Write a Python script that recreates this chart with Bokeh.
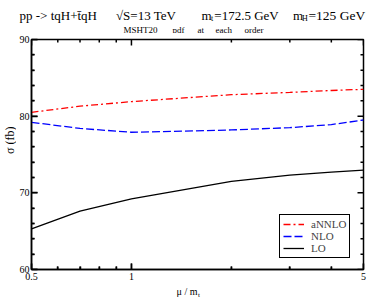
import math
from bokeh.plotting import figure
from bokeh.models import (FixedTicker, Legend, LegendItem,
                          CustomJSTickFormatter, ColumnDataSource, Range1d)
from bokeh.layouts import column, row
from bokeh.core.properties import value
from bokeh.embed import file_html
from bokeh.resources import INLINE

# ---- data ----
mu = [0.5, 0.7, 1.0, 2.0, 3.0, 4.0, 5.0]
annlo = [80.5, 81.3, 81.9, 82.8, 83.1, 83.35, 83.5]
nlo = [79.2, 78.4, 77.9, 78.2, 78.5, 78.9, 79.5]
lo = [65.3, 67.6, 69.2, 71.5, 72.3, 72.7, 72.95]

x_major = [0.5, 1, 5]
x_minor = [0.6, 0.7, 0.8, 0.9, 2, 3, 4]
y_major = [60, 70, 80, 90]
y_minor = [62, 64, 66, 68, 72, 74, 76, 78, 82, 84, 86, 88]

SERIF = "Liberation Serif"
W = 371
TOP_H = 33
LEFT_W = 16
FRAME_W, FRAME_H = 332, 230
MB_TOP, MB_BOT, MB_LEFT, MB_RIGHT = 39 - TOP_H, 15, 29 - LEFT_W, 10
MAIN_H = MB_TOP + FRAME_H + MB_BOT
BOT_Y0 = TOP_H + MAIN_H
BOT_H = 299 - BOT_Y0
X0, X1, Y0, Y1 = 0.5, 5.0, 60.0, 90.0


def strip(width, height, x0, y0):
    f = figure(width=width, height=height, x_range=Range1d(x0, x0 + width),
               y_range=Range1d(y0 + height, y0),
               min_border=0, x_axis_location=None, y_axis_location=None,
               output_backend="svg", toolbar_location=None)
    f.xgrid.visible = False
    f.ygrid.visible = False
    f.outline_line_color = None
    f.background_fill_color = None
    f.border_fill_color = None
    return f


def txt(f, x, y, s, size, align="left", baseline="alphabetic", angle=0.0):
    f.text(x=[x], y=[y], text=[s], text_font=value(SERIF), text_font_size=value(size),
           text_color="black", text_align=align, text_baseline=baseline, angle=angle)


# ---------- title strip ----------
top_fig = strip(W, TOP_H, 0, 0)
txt(top_fig, 19, 15, "pp -> tqH+t\u0304qH", "13px")
txt(top_fig, 145.5, 15, "\u221aS=13 TeV", "13px", align="center")
txt(top_fig, 211, 15, "m", "13px", align="right")
txt(top_fig, 210.5, 18, "t", "8px")
txt(top_fig, 246, 15, "=172.5 GeV", "13px", align="center")
txt(top_fig, 302.5, 15, "m", "13px", align="right")
txt(top_fig, 301.5, 18, "H", "8px")
txt(top_fig, 308, 15, "=125 GeV", "13.5px")
for wx, word in zip([123, 172, 197, 215, 244], ["MSHT20", "pdf", "at", "each", "order"]):
    txt(top_fig, wx, 29, word, "9px")

# ---------- left strip (y title) ----------
left_fig = strip(LEFT_W, MAIN_H, 0, TOP_H)
txt(left_fig, 9, 143, "\u03c3 (fb)", "12px", align="center", baseline="middle", angle=math.pi / 2)

# ---------- main plot ----------
p = figure(x_axis_type="log", x_range=(X0, X1), y_range=(Y0, Y1),
           frame_width=FRAME_W, frame_height=FRAME_H,
           min_border_left=MB_LEFT, min_border_right=MB_RIGHT,
           min_border_top=MB_TOP, min_border_bottom=MB_BOT,
           output_backend="svg", toolbar_location=None)
p.xgrid.visible = False
p.ygrid.visible = False
p.outline_line_color = "black"
p.outline_line_width = 1.5
p.background_fill_color = None
p.border_fill_color = None

fmt = CustomJSTickFormatter(code="return String(tick);")
xtick = FixedTicker(ticks=x_major, minor_ticks=x_minor)
ytick = FixedTicker(ticks=y_major, minor_ticks=y_minor)

for ax, tk, standoff in ((p.xaxis[0], xtick, 3), (p.yaxis[0], ytick, 2)):
    ax.ticker = tk
    ax.formatter = fmt
    ax.axis_line_color = "black"
    ax.axis_line_width = 1.5
    ax.major_tick_in = 6
    ax.major_tick_out = 0
    ax.minor_tick_in = 3
    ax.minor_tick_out = 0
    ax.major_tick_line_color = "black"
    ax.minor_tick_line_color = "black"
    ax.major_tick_line_width = 1.5
    ax.minor_tick_line_width = 1.5
    ax.major_label_text_font = SERIF
    ax.major_label_text_font_size = "10px"
    ax.major_label_text_color = "black"
    ax.major_label_standoff = standoff


# inward tick marks on all four sides (lengths in px converted through the scales)
def ytick_len(px):
    return px * (Y1 - Y0) / FRAME_H


def xtick_fac(px):
    return 10 ** (px * math.log10(X1 / X0) / FRAME_W)


tx, ty0, ty1 = [], [], []
for vals, L in ((x_major, 6), (x_minor, 3)):
    for v in vals:
        tx += [v, v]
        ty0 += [Y0, Y1]
        ty1 += [Y0 + ytick_len(L), Y1 - ytick_len(L)]
p.segment(x0=tx, y0=ty0, x1=tx, y1=ty1, line_color="black", line_width=1.5)

sx0, sx1, sy = [], [], []
for vals, L in ((y_major, 6), (y_minor, 3)):
    for v in vals:
        sy += [v, v]
        sx0 += [X0, X1]
        sx1 += [X0 * xtick_fac(L), X1 / xtick_fac(L)]
p.segment(x0=sx0, y0=sy, x1=sx1, y1=sy, line_color="black", line_width=1.5)

src = ColumnDataSource(dict(mu=mu, annlo=annlo, nlo=nlo, lo=lo))
r1 = p.line("mu", "annlo", source=src, line_color="#ff0000", line_width=1.3, line_dash="7 3 2 3")
r2 = p.line("mu", "nlo", source=src, line_color="#0000ff", line_width=1.3, line_dash="8 3")
r3 = p.line("mu", "lo", source=src, line_color="black", line_width=1.3)

legend = Legend(items=[LegendItem(label="aNNLO", renderers=[r1]),
                       LegendItem(label="NLO", renderers=[r2]),
                       LegendItem(label="LO", renderers=[r3])],
                location=(248, 11))
legend.border_line_color = "black"
legend.border_line_width = 1.3
legend.border_line_alpha = 1
legend.background_fill_color = "white"
legend.background_fill_alpha = 1
legend.padding = 3
legend.spacing = 0
legend.margin = 0
legend.label_height = 10
legend.glyph_height = 10
legend.glyph_width = 21
legend.label_standoff = 7
legend.label_text_font = SERIF
legend.label_text_font_size = "11px"
legend.label_text_baseline = "middle"
p.add_layout(legend, "center")

# ---------- x-label strip ----------
bot_fig = strip(W, BOT_H, 0, BOT_Y0)
txt(bot_fig, 197, 291, "\u03bc / m", "10px", align="right")
txt(bot_fig, 197.5, 294, "t", "7px")

main_row = row(left_fig, p, spacing=0)
layout = column(top_fig, main_row, bot_fig, spacing=0)
open("out.html", "w").write(file_html(layout, INLINE))
